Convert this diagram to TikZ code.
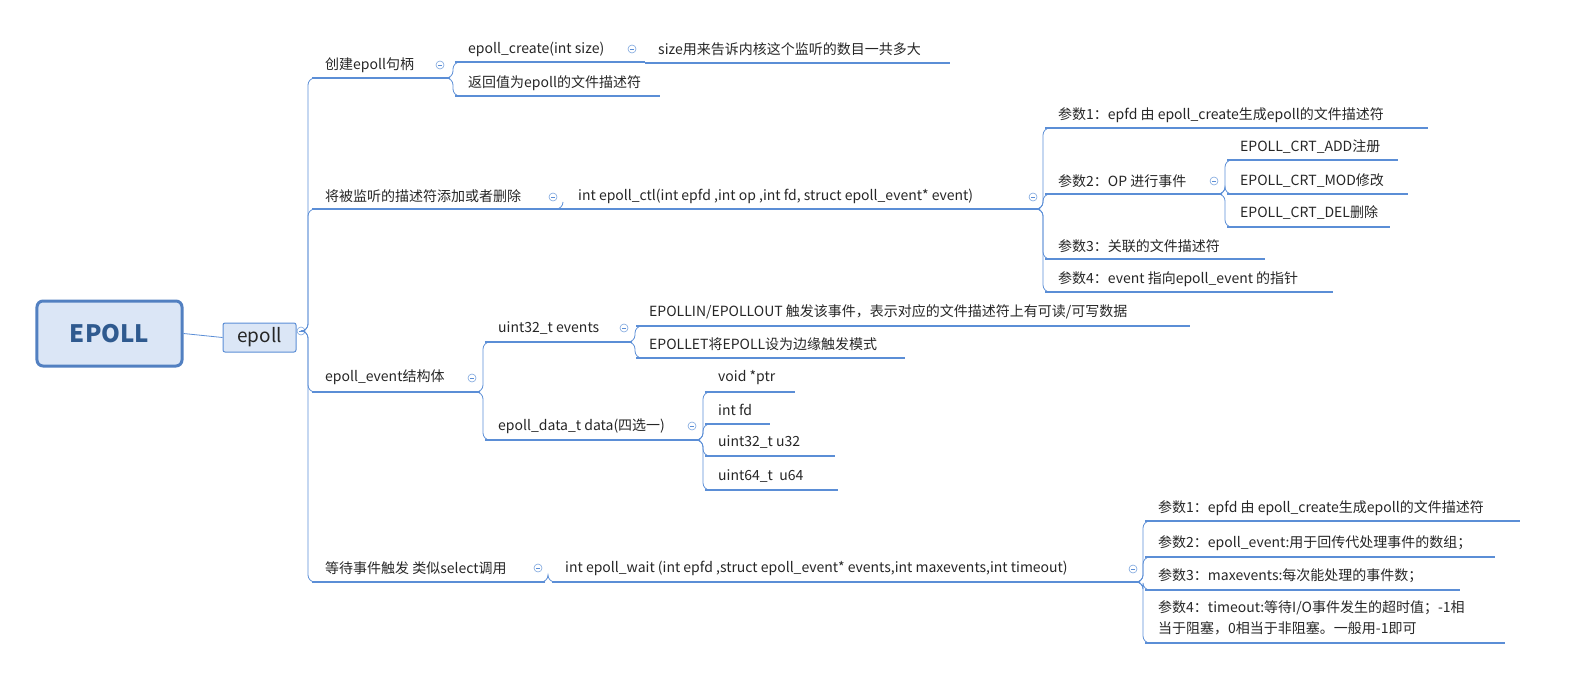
\documentclass[tikz,border=0pt]{standalone}
\usepackage{fontspec}
\setmainfont{Noto Sans CJK SC}
\definecolor{ul}{HTML}{5B8ED6}
\definecolor{tx}{HTML}{262626}
\definecolor{rootc}{HTML}{2F5A8F}
\tikzset{
  uline/.style={ul,line width=1.6bp},
  conn/.style={ul,line width=0.8bp,rounded corners=7bp},
  txt/.style={inner sep=0pt,anchor=west,text=tx,font=\fontsize{14bp}{17bp}\selectfont},
  icon/.style={circle,draw=ul!80,line width=0.6bp,minimum size=8bp,inner sep=0pt,fill=white}
}
\newcommand{\mmleaf}[6]{%
  \coordinate (#1s) at (#2,#4); \coordinate (#1e) at (#5,#4);
  \draw[uline] (#1s)--(#1e);
  \node[txt] (#1) at ({#2+13},#3) {#6};}
\newcommand{\mmicon}[3]{%
  \node[icon] (#1) at (#2,#3) {}; \draw[ul,line width=0.6bp] ({#2-2},#3)--({#2+2},#3);}
\begin{document}
\begin{tikzpicture}[x=1bp,y=-1bp]
\useasboundingbox (0,0) rectangle (1588,699);
% root
\node[draw=ul!90!black,line width=3bp,rounded corners=6bp,fill=ul!22,minimum width=145bp,minimum height=65bp,text=rootc,font=\fontsize{24bp}{28bp}\selectfont\bfseries] (root) at (109.5,333.5) {EPOLL};
\node[draw=ul,line width=1bp,rounded corners=2bp,fill=ul!22,minimum width=73bp,minimum height=29bp,text=tx,font=\fontsize{19bp}{22bp}\selectfont] (ep) at (259.5,337.5) {epoll};
\draw[ul,line width=0.8bp] (root.east) -- (ep.west);
\mmicon{iep}{301}{331}
\coordinate (epe) at (305,331);
% branch 1
\mmleaf{a}{312}{65}{78}{450}{创建epoll句柄}
\mmicon{ia}{440}{65}
\mmleaf{aa}{455}{49}{62}{645}{epoll\_create(int size)}
\mmicon{iaa}{632}{49}
\mmleaf{aaa}{645}{49}{63}{950}{size用来告诉内核这个监听的数目一共多大}
\mmleaf{ab}{455}{83}{96}{660}{返回值为epoll的文件描述符}
% branch 2
\mmleaf{b}{312}{196}{209}{560}{将被监听的描述符添加或者删除}
\mmicon{ib}{553}{197}
\mmleaf{ba}{560}{196}{209}{1040}{\hspace{5bp}int epoll\_ctl(int epfd ,int op ,int fd, struct epoll\_event* event)}
\mmicon{iba}{1033}{197}
\mmleaf{p1}{1045}{115}{128}{1428}{参数1：epfd 由 epoll\_create生成epoll的文件描述符}
\mmleaf{p2}{1045}{181}{194}{1222}{参数2：OP 进行事件}
\mmicon{ip2}{1214}{181}
\mmleaf{o1}{1227}{147}{160}{1398}{EPOLL\_CRT\_ADD注册}
\mmleaf{o2}{1227}{181}{194}{1408}{EPOLL\_CRT\_MOD修改}
\mmleaf{o3}{1227}{213}{227}{1390}{EPOLL\_CRT\_DEL删除}
\mmleaf{p3}{1045}{246}{259}{1265}{参数3：关联的文件描述符}
\mmleaf{p4}{1045}{279}{292}{1333}{参数4：event 指向epoll\_event 的指针}
% branch 3
\mmleaf{c}{312}{377}{392}{480}{epoll\_event结构体}
\mmicon{ic}{472}{378}
\mmleaf{ca}{485}{328}{342}{632}{uint32\_t events}
\mmicon{ica}{624}{328}
\mmleaf{caa}{636}{312}{326}{1190}{EPOLLIN/EPOLLOUT 触发该事件，表示对应的文件描述符上有可读/可写数据}
\mmleaf{cab}{636}{344}{358}{905}{EPOLLET将EPOLL设为边缘触发模式}
\mmleaf{cb}{485}{426}{440}{700}{epoll\_data\_t data(四选一)}
\mmicon{icb}{692}{426}
\mmleaf{d1}{705}{378}{392}{795}{void *ptr}
\mmleaf{d2}{705}{410}{424}{770}{int fd}
\mmleaf{d3}{705}{442}{456}{835}{uint32\_t u32}
\mmleaf{d4}{705}{476}{490}{838}{uint64\_t\ \ u64}
% branch 4
\mmleaf{w}{312}{568}{582}{545}{等待事件触发 类似select调用}
\mmicon{iw}{538}{568}
\mmleaf{wa}{552}{568}{582}{1140}{int epoll\_wait (int epfd ,struct epoll\_event* events,int maxevents,int timeout)}
\mmicon{iwa}{1133}{569}
\mmleaf{q1}{1145}{508}{521}{1520}{参数1：epfd 由 epoll\_create生成epoll的文件描述符}
\mmleaf{q2}{1145}{543}{557}{1495}{参数2：epoll\_event:用于回传代处理事件的数组；}
\mmleaf{q3}{1145}{576}{590}{1460}{参数3：maxevents:每次能处理的事件数；}
\coordinate (q4s) at (1145,643); \coordinate (q4e) at (1505,643);
\draw[uline] (q4s)--(q4e);
\node[txt,align=left,font=\fontsize{14bp}{21bp}\selectfont] (q4) at (1158,618) {参数4：timeout:等待I/O事件发生的超时值；-1相\\当于阻塞，0相当于非阻塞。一般用-1即可};
% connectors
\foreach \p/\c in {epe/as,epe/bs,epe/cs,epe/ws,ae/aas,ae/abs,be/bas,bae/p1s,bae/p2s,bae/p3s,bae/p4s,p2e/o1s,p2e/o2s,p2e/o3s,ce/cas,ce/cbs,cae/caas,cae/cabs,cbe/d1s,cbe/d2s,cbe/d3s,cbe/d4s,we/was,wae/q1s,wae/q2s,wae/q3s,wae/q4s}
  \draw[conn] (\p) -- ++(3,0) |- (\c);
\end{tikzpicture}
\end{document}
